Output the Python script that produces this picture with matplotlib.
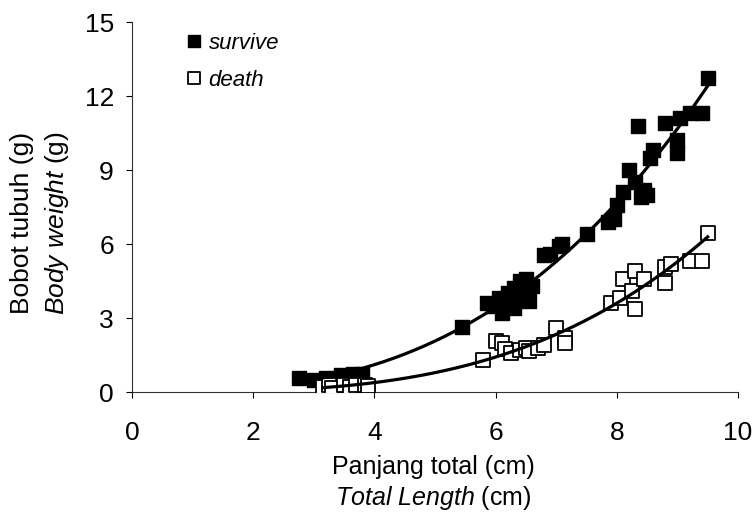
import numpy as np
import matplotlib
matplotlib.use("Agg")
import matplotlib.pyplot as plt

plt.rcParams['font.family'] = ['Liberation Sans', 'DejaVu Sans']
plt.rcParams['mathtext.fontset'] = 'custom'
plt.rcParams['mathtext.rm'] = 'Liberation Sans'
plt.rcParams['mathtext.it'] = 'Liberation Sans:italic'

# survive fish: total length (cm) and body weight (g)
survive_len = [2.75, 3.0, 3.2, 3.45, 3.65, 3.8,
               5.45,
               5.85, 5.95, 6.05, 6.1, 6.15, 6.2, 6.3, 6.3, 6.35, 6.4, 6.45, 6.5, 6.55, 6.6,
               6.8, 6.9, 7.05, 7.1,
               7.5, 7.85, 7.95, 8.0, 8.1, 8.2, 8.3, 8.4, 8.45, 8.5, 8.35, 8.55, 8.6,
               8.8, 9.0, 9.0, 9.05, 9.2, 9.4, 9.5]
survive_wt = [0.55, 0.5, 0.55, 0.7, 0.72, 0.72,
              2.65,
              3.6, 3.5, 3.8, 3.2, 3.6, 4.0, 3.4, 4.2, 3.9, 4.5, 4.1, 4.6, 3.7, 4.3,
              5.55, 5.6, 5.9, 6.0,
              6.4, 6.9, 7.0, 7.6, 8.1, 9.0, 8.5, 7.9, 8.2, 8.0, 10.8, 9.5, 9.8,
              10.9, 10.2, 9.7, 11.1, 11.3, 11.3, 12.75]

# dead fish
death_len = [3.15, 3.25, 3.3, 3.5, 3.6, 3.7, 3.85, 3.9,
             5.8, 6.0, 6.1, 6.15, 6.25, 6.4, 6.5, 6.55, 6.7, 6.8, 7.0, 7.15, 7.15,
             7.9, 8.05, 8.1, 8.25, 8.3, 8.3, 8.45, 8.8, 8.8, 8.9, 9.2, 9.4, 9.5]
death_wt = [0.2, 0.3, 0.15, 0.3, 0.2, 0.3, 0.3, 0.25,
            1.3, 2.05, 2.0, 1.75, 1.6, 1.7, 1.8, 1.65, 1.8, 1.9, 2.6, 2.2, 2.0,
            3.6, 3.8, 4.6, 4.1, 4.9, 3.35, 4.6, 4.4, 5.05, 5.2, 5.3, 5.3, 6.45]

x_ticks = [0, 2, 4, 6, 8, 10]
y_ticks = [0, 3, 6, 9, 12, 15]


def power_fit(x, y):
    # W = a * L^b, fitted in log space
    b, log_a = np.polyfit(np.log(x), np.log(y), 1)
    xs = np.linspace(min(x), max(x), 200)
    return xs, np.exp(log_a) * xs ** b


W, H = 755, 515
fig = plt.figure(figsize=(W / 100, H / 100), dpi=100)
# axes box in pixels: x 132..738, y 22..392
ax = fig.add_axes([132 / W, 1 - 392 / H, 606 / W, 370 / H])

ax.scatter(survive_len, survive_wt, marker='s', s=90, c='black',
           edgecolors='black', linewidths=1, label='survive', zorder=3)
ax.scatter(death_len, death_wt, marker='s', s=90, c='white',
           edgecolors='black', linewidths=1.3, label='death', zorder=3)

xs, ys = power_fit(survive_len, survive_wt)
ax.plot(xs, ys, color='black', lw=2.3, zorder=4)
xs, ys = power_fit(death_len, death_wt)
ax.plot(xs, ys, color='black', lw=2.3, zorder=4)

ax.set_xlim(0, 10)
ax.set_ylim(0, 15)
ax.set_xticks(x_ticks)
ax.set_yticks(y_ticks)
ax.tick_params(labelsize=19, length=4, width=0.8, direction='out')
ax.tick_params(axis='x', pad=17)
ax.tick_params(axis='y', pad=9)
for side in ['top', 'right']:
    ax.spines[side].set_visible(False)
for side in ['left', 'bottom']:
    ax.spines[side].set_linewidth(0.8)
    ax.spines[side].set_color('#333333')

leg = ax.legend(loc='upper left', bbox_to_anchor=(183 / W, 1 - 33 / H),
                bbox_transform=fig.transFigure, frameon=False,
                prop={'style': 'italic', 'size': 16}, handlelength=1.0,
                handletextpad=0.15, labelspacing=0.72, markerscale=0.9,
                borderpad=0, borderaxespad=0, scatteryoffsets=[0.5])

fig.text(433 / W, 1 - 467 / H, 'Panjang total (cm)', fontsize=18,
         ha='center', va='center')
fig.text(433 / W, 1 - 498 / H, r'$\mathit{Total\ Length}$ (cm)', fontsize=18,
         ha='center', va='center')
fig.text(22 / W, 1 - 223 / H, 'Bobot tubuh (g)', fontsize=19,
         ha='center', va='center', rotation=90)
fig.text(57 / W, 1 - 223 / H, r'$\mathit{Body\ weight}$ (g)', fontsize=19,
         ha='center', va='center', rotation=90)

fig.savefig('out.png', dpi=100)
